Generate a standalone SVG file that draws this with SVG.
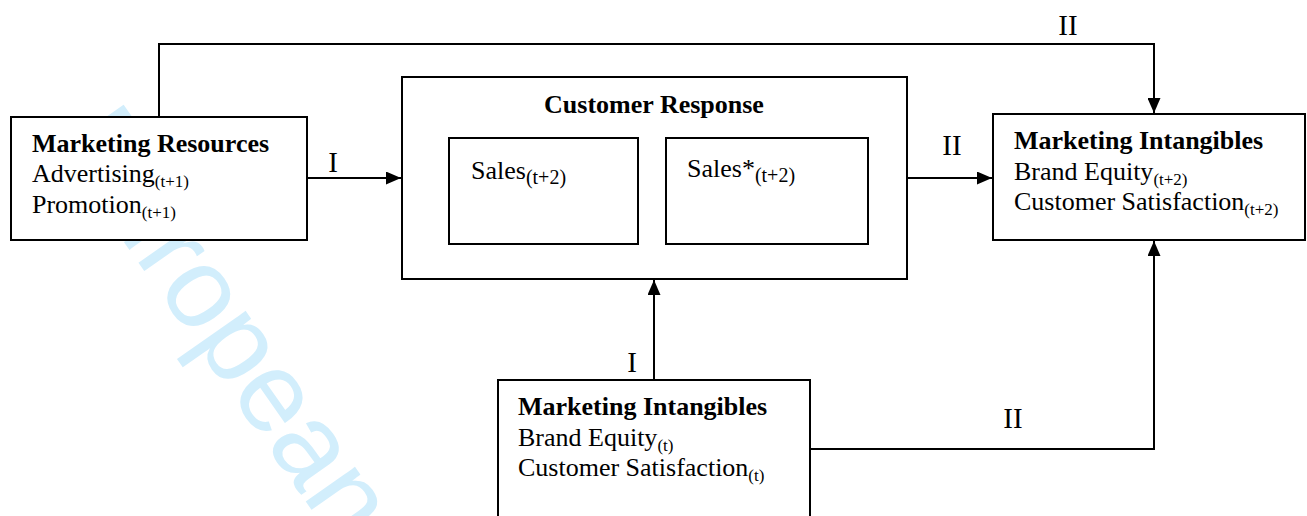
<svg xmlns="http://www.w3.org/2000/svg" width="1307" height="516" viewBox="0 0 1307 516">
<defs>
<style>
.box{fill:#fff;stroke:#000;stroke-width:2}
.ln{fill:none;stroke:#000;stroke-width:2}
.t{font-family:"Liberation Serif","Times New Roman",serif;font-size:26px;fill:#000}
.b{font-weight:bold}
.sub{font-size:17px}
.lbl{font-family:"Liberation Serif","Times New Roman",serif;font-size:29px;fill:#000;text-anchor:middle}
.wm{font-family:"Liberation Sans",Arial,sans-serif;font-size:114px;fill:#d2eefc}
</style>
<marker id="ah" markerUnits="userSpaceOnUse" markerWidth="15" markerHeight="13" refX="15" refY="6.5" orient="auto">
<path d="M0,0 L15,6.5 L0,13 z" fill="#000"/>
</marker>
</defs>
<rect width="1307" height="516" fill="#fff"/>
<g id="watermark">
<text class="wm" transform="translate(54,142) rotate(55)">European</text>
</g>
<g id="connectors">
<path class="ln" d="M159,117 V44 H1154 V113" marker-end="url(#ah)"/>
<path class="ln" d="M307,178 H401" marker-end="url(#ah)"/>
<path class="ln" d="M907,178 H992" marker-end="url(#ah)"/>
<path class="ln" d="M654,380 V280" marker-end="url(#ah)"/>
<path class="ln" d="M810,449 H1154 V241" marker-end="url(#ah)"/>
<path class="ln" d="M638,191 H665" marker-end="url(#ah)"/>
<text class="lbl" x="1068" y="35">II</text>
<text class="lbl" x="333" y="172">I</text>
<text class="lbl" x="952" y="155">II</text>
<text class="lbl" x="632" y="372">I</text>
<text class="lbl" x="1013" y="428">II</text>
</g>
<g id="marketing-resources">
<rect class="box" x="11" y="117" width="296" height="123"/>
<text class="t b" x="32" y="152">Marketing Resources</text>
<text class="t" x="32" y="182">Advertising<tspan class="sub" dy="5">(t+1)</tspan></text>
<text class="t" x="32" y="213">Promotion<tspan class="sub" dy="5">(t+1)</tspan></text>
</g>
<g id="customer-response">
<rect class="box" x="402" y="77" width="505" height="202"/>
<text class="t b" x="654" y="113" text-anchor="middle">Customer Response</text>
</g>
<g id="sales">
<rect class="box" x="449" y="138" width="189" height="106"/>
<text class="t" x="471" y="179">Sales<tspan class="sub" style="font-size:20px" dy="5">(t+2)</tspan></text>
</g>
<g id="sales-star">
<rect class="box" x="666" y="138" width="202" height="106"/>
<text class="t" x="687" y="177">Sales*<tspan class="sub" style="font-size:20px" dy="5">(t+2)</tspan></text>
</g>
<g id="marketing-intangibles-t2">
<rect class="box" x="993" y="114" width="312" height="126"/>
<text class="t b" x="1014" y="149">Marketing Intangibles</text>
<text class="t" x="1014" y="180">Brand Equity<tspan class="sub" dy="5">(t+2)</tspan></text>
<text class="t" x="1014" y="210">Customer Satisfaction<tspan class="sub" dy="5">(t+2)</tspan></text>
</g>
<g id="marketing-intangibles-t">
<rect class="box" x="498" y="380" width="312" height="150"/>
<text class="t b" x="518" y="415">Marketing Intangibles</text>
<text class="t" x="518" y="446">Brand Equity<tspan class="sub" dy="5">(t)</tspan></text>
<text class="t" x="518" y="476">Customer Satisfaction<tspan class="sub" dy="5">(t)</tspan></text>
</g>
</svg>
